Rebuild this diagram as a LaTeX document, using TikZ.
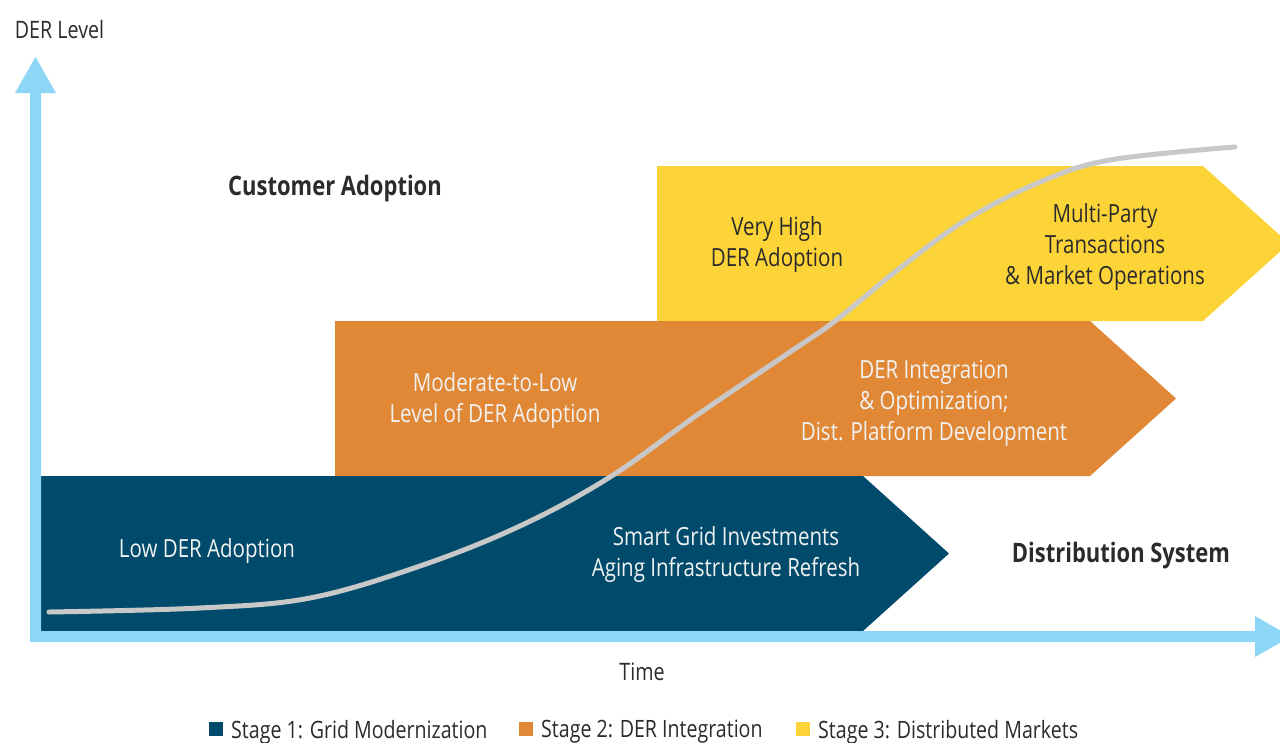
\documentclass[tikz,border=0pt]{standalone}
\usepackage{fontspec}
\setmainfont{Open Sans}[FakeStretch=0.82]
\definecolor{axisblue}{RGB}{142,214,245}
\definecolor{stageone}{RGB}{0,75,107}
\definecolor{stagetwo}{RGB}{224,136,54}
\definecolor{stagethree}{RGB}{253,212,56}
\definecolor{curvegrey}{RGB}{200,200,200}
\definecolor{lighttext}{RGB}{242,242,242}
\definecolor{darktext}{RGB}{43,43,43}
\tikzset{
  boxtext/.style={align=center, inner sep=0pt, font=\fontsize{25}{31}\selectfont},
  lighttxt/.style={boxtext, text=lighttext},
  darktxt/.style={boxtext, text=darktext},
  headtxt/.style={inner sep=0pt, text=darktext, font=\fontsize{26.8}{30}\selectfont\bfseries},
  axistxt/.style={inner sep=0pt, text=darktext, font=\fontsize{24}{28}\selectfont},
  legendtxt/.style={inner sep=0pt, anchor=west, text=darktext, font=\fontsize{23.9}{28}\selectfont},
}
\begin{document}
\begin{tikzpicture}[x=1pt,y=-1pt]
\useasboundingbox (0,0) rectangle (1280,742);
\begin{scope}
\clip (0,0) rectangle (1280,742);
% stage shapes
\fill[stagethree] (657,166) -- (1203,166) -- (1289,243.5) -- (1203,321) -- (657,321) -- cycle;
\fill[stagetwo] (335,321) -- (1090,321) -- (1176,398.5) -- (1090,476) -- (335,476) -- cycle;
\fill[stageone] (41,476) -- (863,476) -- (949,553.5) -- (863,631) -- (41,631) -- cycle;
% axes
\fill[axisblue] (30,93) -- (15,93) -- (35.5,57) -- (56,93) -- (41,93) -- (41,631) -- (1255,631) -- (1255,616) -- (1291,636.5) -- (1255,657) -- (1255,642) -- (30,642) -- cycle;
% curve
\draw[curvegrey, line width=5pt, line cap=round, line join=round]
  plot[smooth, tension=0.6] coordinates {(49,612) (200,608) (310,598) (420,566) (520,526) (610,477) (700,413) (790,352) (835,321) (900,268) (966,220) (1040,182) (1110,160) (1235,147)};
\end{scope}
% texts
\node[lighttxt] (lowder) at (207,551) {Low DER Adoption};
\node[lighttxt] (smartgrid) at (726,554) {Smart Grid Investments\\Aging Infrastructure Refresh};
\node[lighttxt] (modlow) at (495,400) {Moderate-to-Low\\Level of DER Adoption};
\node[lighttxt] (derint) at (934,403) {DER Integration\\\& Optimization;\\Dist. Platform Development};
\node[darktxt] (veryhigh) at (777,245) {Very High\\DER Adoption};
\node[darktxt] (multiparty) at (1105,247) {Multi-Party\\Transactions\\\& Market Operations};
\node[headtxt] (custadopt) at (335,189) {Customer Adoption};
\node[headtxt] (distsys) at (1121,556) {Distribution System};
\node[axistxt] (derlevel) at (59.5,29) {DER Level};
\node[axistxt] (time) at (642,672) {Time};
% legend
\fill[stageone] (209,722) rectangle (223,736);
\node[legendtxt] (leg1) at (231,732) {Stage 1: Grid Modernization};
\fill[stagetwo] (519,722) rectangle (533,736);
\node[legendtxt] (leg2) at (541,732) {Stage 2: DER Integration};
\fill[stagethree] (796,722) rectangle (810,736);
\node[legendtxt] (leg3) at (818,732) {Stage 3: Distributed Markets};
\end{tikzpicture}
\end{document}
